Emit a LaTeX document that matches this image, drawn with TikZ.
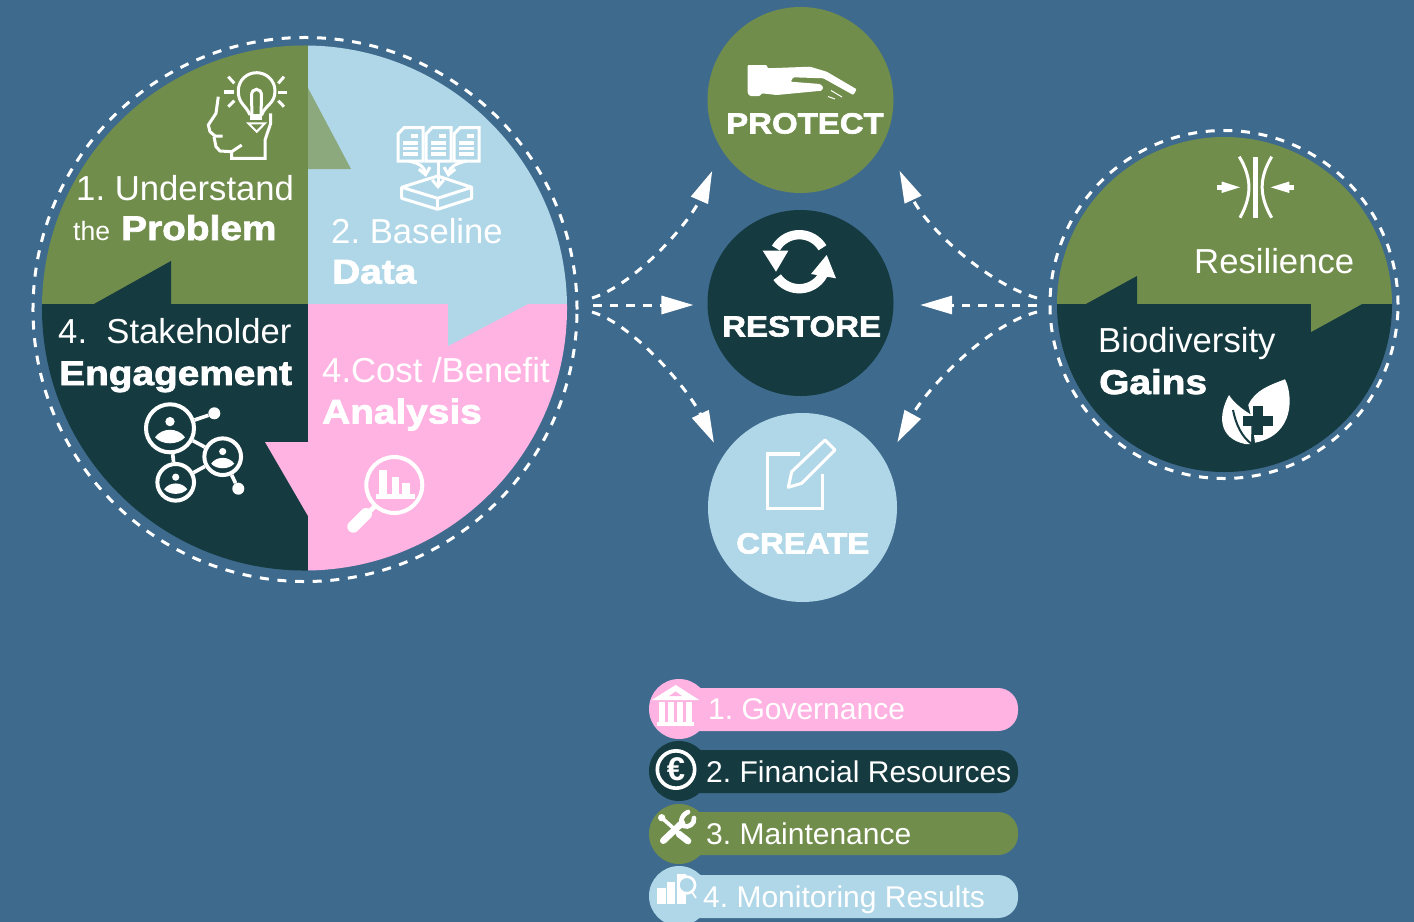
\documentclass[tikz,border=0pt]{standalone}
\usepackage{fontspec}
\setmainfont{Liberation Sans}
\newfontfamily\heavyfont[BoldFeatures={FakeBold=2.2,FakeStretch=1.13}]{Liberation Sans}
\usetikzlibrary{arrows.meta}
\definecolor{sea}{HTML}{3E6A8D}
\definecolor{moss}{HTML}{718D4B}
\definecolor{pine}{HTML}{153A40}
\definecolor{sky}{HTML}{B0D7E8}
\definecolor{rose}{HTML}{FFB3E3}
\definecolor{sage}{HTML}{8CA87D}
\tikzset{
	bodytext/.style={inner sep=0pt,anchor=base west,text=white,font=\frenchspacing\fontsize{29.6}{32}\selectfont},
	heavytext/.style={inner sep=0pt,anchor=base west,text=white,font=\fontsize{29.3}{32}\selectfont\heavyfont\bfseries},
	capstext/.style={inner sep=0pt,anchor=base west,text=white,font=\fontsize{24.9}{28}\selectfont\heavyfont\bfseries},
	legendtext/.style={inner sep=0pt,anchor=base west,text=white,font=\frenchspacing\fontsize{25.6}{28}\selectfont},
	dashring/.style={draw=white,line width=.09cm,dash pattern=on .27cm off .26cm},
	flowline/.style={draw=white,line width=.09cm,dash pattern=on .26cm off .24cm,-{Triangle[length=.96cm,width=.54cm]}},
	bigdisc/.style={circle,inner sep=0pt,outer sep=0pt,minimum size=5.58cm},
	pillbar/.style={rounded corners=.6cm},
	iconline/.style={draw=white,line width=.09cm},
	netlink/.style={draw=white,line width=.11cm},
	persondisc/.style={circle,draw=white,line width=.12cm,inner sep=0pt,minimum size=1.1cm},
	netdot/.style={circle,fill=white,inner sep=0pt,minimum size=.36cm},
	personmark/.pic={
		\fill[white] (0,-6.7) circle [radius=.14cm];
		\fill[white] (-15,9) .. controls (-8,-1) and (8,-1) .. (15,9) .. controls (8,17) and (-8,17) .. (-15,9) -- cycle;
	}
}
\begin{document}
\begin{tikzpicture}[x=.03cm,y=-.03cm]
	\useasboundingbox (0,0) rectangle (1414,922);
	\fill[sea] (0,0) rectangle (1414,922);

	\begin{scope}
		\clip (304.5,308) circle [radius=7.875cm];
		\fill[moss] (0,0) rectangle (308,304);
		\fill[sky] (308,0) rectangle (620,304);
		\fill[pine] (0,304) rectangle (308,620);
		\fill[rose] (308,304) rectangle (620,620);
		\fill[pine] (94,304) -- (171,261) -- (171,304) -- cycle;
		\fill[sage] (308,88) -- (351,169) -- (308,169) -- cycle;
		\fill[sky] (448,304) -- (448,346) -- (528,304) -- cycle;
		\fill[rose] (265,442) -- (308,442) -- (308,516) -- cycle;
	\end{scope}
	\draw[dashring] (305,309.5) circle [radius=8.16cm];

	\begin{scope}
		\clip (1224.5,304.5) circle [radius=5.025cm];
		\fill[moss] (1040,120) rectangle (1410,304);
		\fill[pine] (1040,304) rectangle (1410,490);
		\fill[pine] (1086,304) -- (1137,276) -- (1137,304) -- cycle;
		\fill[moss] (1311,304) -- (1311,332) -- (1362,304) -- cycle;
	\end{scope}
	\draw[dashring] (1224,304.5) circle [radius=5.22cm];

	\node[bigdisc,fill=moss] (protect) at (800.5,100) {};
	\node[bigdisc,fill=pine] (restore) at (800.5,303) {};
	\node[bigdisc,fill=sky,minimum size=5.67cm] (create) at (802.5,507.5) {};

	\coordinate (hubLeftUp) at (592,298);
	\coordinate (hubLeftMid) at (593,305);
	\coordinate (hubLeftDown) at (592,312);
	\coordinate (hubRightUp) at (1037,298);
	\coordinate (hubRightMid) at (1037,305);
	\coordinate (hubRightDown) at (1037,312);
	\draw[flowline,shorten >=.71cm] (hubLeftUp) .. controls (635,285) and (690,222) .. (protect.212);
	\draw[flowline,shorten >=.42cm] (hubLeftMid) -- (hubLeftMid -| restore.west);
	\draw[flowline,shorten >=.53cm] (hubLeftDown) .. controls (635,325) and (690,392) .. (create.149);
	\draw[flowline,shorten >=1.04cm] (hubRightUp) .. controls (985,283) and (925,225) .. (protect.335);
	\draw[flowline,shorten >=.8cm] (hubRightMid) -- (hubRightMid -| restore.east);
	\draw[flowline,shorten >=.71cm] (hubRightDown) .. controls (985,325) and (925,392) .. (create.28);

	\node[bodytext] (understandA) at (76,200) {1. Understand};
	\node[bodytext,font=\fontsize{22.7}{26}\selectfont] (understandB) at (73,240) {the};
	\node[heavytext] (understandC) at (121,240) {Problem};
	\node[bodytext] (baselineA) at (331,243) {2. Baseline};
	\node[heavytext] (baselineB) at (332,283.5) {Data};
	\node[bodytext] (stakeA) at (58,343.5) {4.\ \ Stakeholder};
	\node[heavytext] (stakeB) at (59,385) {Engagement};
	\node[bodytext] (costA) at (322,382) {4.Cost /Benefit};
	\node[heavytext] (costB) at (322,423.5) {Analysis};
	\node[bodytext] (resilience) at (1194,273) {Resilience};
	\node[bodytext] (gainsA) at (1098,352.5) {Biodiversity};
	\node[heavytext] (gainsB) at (1099,394) {Gains};
	\node[capstext] (protectText) at (726,133.5) {PROTECT};
	\node[capstext] (restoreText) at (722,336.5) {RESTORE};
	\node[capstext] (createText) at (736,553.5) {CREATE};

	\draw[iconline,line join=round] (250,115) .. controls (246,105) and (238.3,104) .. (238.3,91) .. controls (238.3,80) and (247,72.7) .. (256.7,72.7) .. controls (266,72.7) and (275,80) .. (275,91) .. controls (275,104) and (265,105) .. (261.7,115);
	\draw[iconline] (252,116) -- (251.5,96) .. controls (251,87) and (262,87) .. (261.5,96) -- (261,116);
	\fill[white] (250,114) rectangle (262,120);
	\draw[iconline,line width=.06cm] (248.3,123.3) -- (265,123.3) -- (256.7,131.7) -- cycle;
	\draw[iconline,line width=.1cm] (224.3,92) -- (234,92);
	\draw[iconline,line width=.1cm] (278.3,92.7) -- (286.7,92.7);
	\draw[iconline] (228.3,76.7) -- (234.3,83.3);
	\draw[iconline] (228.3,106.7) -- (234.3,100.7);
	\draw[iconline] (284,76.7) -- (278.3,83.3);
	\draw[iconline] (284,106.7) -- (278.3,100.7);
	\draw[iconline,line join=round] (218.3,96.7) -- (216,113.3) -- (208.3,125) -- (210,131.7) -- (215,136) -- (222.7,136);
	\draw[iconline,line join=round] (214,136.7) -- (216,146.7) -- (220,151) -- (231.7,151.7) -- (241.7,145);
	\draw[iconline] (231.7,151.7) -- (231.7,158.3) -- (265,158.3) -- (265,140) -- (270.7,123.3) -- (270.7,113.3);

	\foreach \docx in {398,426,454}{
		\draw[iconline] (\docx+6,127.7) -- (\docx+25,127.7) -- (\docx+25,161) -- (\docx,161) -- (\docx,134) -- cycle;
		\fill[white] (\docx+13,134) rectangle (\docx+20,138);
		\foreach \docy in {141,146.5,152}
			\fill[white] (\docx+5,\docy) rectangle (\docx+20,\docy+3.8);
	}
	\draw[iconline,line join=round] (401.7,187.3) -- (437.7,176) -- (471.7,187.3) -- (437.7,198.3) -- cycle;
	\draw[iconline,line join=round] (401.7,187.3) -- (401.7,198.3) -- (437.7,209.3) -- (471.7,198.3) -- (471.7,187.3);
	\draw[iconline] (437.7,198.3) -- (437.7,209.3);
	\draw[iconline,-{Straight Barb[length=.2cm,width=.34cm]}] (438,161) -- (438,189);
	\draw[iconline,-{Straight Barb[length=.2cm,width=.34cm]}] (409,161) .. controls (420,164) and (424,166) .. (426,177);
	\draw[iconline,-{Straight Barb[length=.2cm,width=.34cm]}] (466,161) .. controls (456,164) and (450,166) .. (448,177);

	\node[persondisc,minimum size=1.44cm] (peerA) at (170,428.3) {};
	\node[persondisc] (peerB) at (222.7,456.7) {};
	\node[persondisc] (peerC) at (175.7,482.3) {};
	\node[netdot] (dotA) at (214.3,413.3) {};
	\node[netdot] (dotB) at (238.3,488.7) {};
	\draw[netlink] (peerA) -- (dotA);
	\draw[netlink] (peerA) -- (peerB);
	\draw[netlink] (peerA) -- (peerC);
	\draw[netlink] (peerB) -- (peerC);
	\draw[netlink] (peerB) -- (dotB);
	\pic at (170,428.3) {personmark};
	\pic[scale=.77] at (222.7,456.7) {personmark};
	\pic[scale=.77] at (175.7,482.3) {personmark};

	\node[circle,draw=white,line width=.12cm,inner sep=0pt,minimum size=1.68cm] (lens) at (394.3,485) {};
	\coordinate (lensGrip) at (353.3,526.7);
	\draw[white,line width=.14cm] (lens) ++(-18,20) -- (lensGrip);
	\draw[white,line width=.36cm,line cap=round] (366,514) -- (lensGrip);
	\fill[white] (376,494) rectangle (415,499);
	\fill[white] (379.3,470) rectangle (387.3,494);
	\fill[white] (391.7,476.7) rectangle (399.3,494);
	\fill[white] (402,483.3) rectangle (410,494);

	\fill[white,rounded corners=.03cm] (747.7,65) -- (766.7,65) -- (767.7,68.3) -- (810,66.7) -- (826.7,71.7) -- (856.7,89.3) -- (853.3,95) -- (823.3,78.3) -- (793.3,77.3) -- (790.7,81.7) -- (820,84) -- (823.3,87.3) -- (821.7,90.7) -- (776.7,95) -- (761.7,93.3) -- (760,96) -- (750,96) -- (747.7,93.3) -- cycle;
	\draw[white,line width=.03cm] (831,90.5) -- (842,97);
	\draw[white,line width=.03cm] (828,96.5) -- (835,99);

	\draw[white,line width=.28cm] plot[variable=\t,domain=31:150,samples=30] ({799.3+27*cos(\t)},{261.7-27*sin(\t)});
	\fill[white] (762.7,250.7) -- (788.3,250.7) -- (776,271.7) -- cycle;
	\draw[white,line width=.28cm] plot[variable=\t,domain=215:335,samples=30] ({799.3+27*cos(\t)},{261.7-27*sin(\t)});
	\fill[white] (811,274) -- (826.7,255) -- (836,278.3) -- cycle;

	\draw[iconline,line width=.1cm] (800,454) -- (767.7,454) -- (767.7,508.3) -- (822.7,508.3) -- (822.7,474);
	\draw[iconline,line join=round] (788.3,487.3) -- (791.7,471.7) -- (825,440) -- (835,450) -- (801.7,483.3) -- cycle;

	\fill[white] (1253.3,156.7) rectangle (1258,217.7);
	\draw[white,line width=.09cm] (1239.3,156.7) .. controls (1252,178) and (1252,196) .. (1240,217.7);
	\draw[white,line width=.09cm] (1271.7,156.7) .. controls (1259,178) and (1259,196) .. (1271.7,217.7);
	\fill[white] (1217.3,184.5) rectangle (1221.7,190);
	\fill[white] (1221.7,181.5) -- (1240,187.3) -- (1221.7,193) -- cycle;
	\fill[white] (1289.3,184.5) rectangle (1294,190);
	\fill[white] (1289.3,181.5) -- (1270.7,187.3) -- (1289.3,193) -- cycle;

	\fill[white] (1285,379.3) .. controls (1293,395) and (1295,435) .. (1255,442.7) -- (1252,420) -- (1248.3,405) .. controls (1255,390) and (1270,385) .. (1285,379.3) -- cycle;
	\fill[white] (1229,395) .. controls (1218,415) and (1218,438) .. (1245,444) -- (1251,444) -- (1251.7,415) .. controls (1243,410) and (1233,402) .. (1229,395) -- cycle;
	\draw[pine,line width=.06cm] (1233,410) .. controls (1236,425) and (1242,437) .. (1251.7,444);
	\fill[pine] (1252.7,406) rectangle (1262.7,435);
	\fill[pine] (1242.7,416) rectangle (1272.7,426);

	\fill[rose,pillbar] (660,688) rectangle (1018,731);
	\fill[pine,pillbar] (660,750) rectangle (1018,793);
	\fill[moss,pillbar] (660,812) rectangle (1018,855);
	\fill[sky,pillbar] (660,875) rectangle (1018,918);
	\node[circle,fill=rose,inner sep=0pt,minimum size=1.8cm] (bankDisc) at (679,709) {};
	\node[circle,fill=pine,inner sep=0pt,minimum size=1.8cm] (euroDisc) at (679,771) {};
	\node[circle,fill=moss,inner sep=0pt,minimum size=1.8cm] (toolDisc) at (679,834) {};
	\node[circle,fill=sky,inner sep=0pt,minimum size=1.8cm] (chartDisc) at (679,896) {};

	\node[legendtext] (govText) at (708,719.5) {1. Governance};
	\node[legendtext] (finText) at (706,782) {2. Financial Resources};
	\node[legendtext] (mainText) at (706,844) {3. Maintenance};
	\node[legendtext] (monText) at (703,907) {4. Monitoring Results};

	\fill[white] (651.7,700) -- (675.7,685) -- (699.3,700) -- cycle;
	\fill[rose] (669,696) -- (675.7,691.5) -- (682,696) -- cycle;
	\foreach \colx in {659,668,677,686}
		\fill[white] (\colx,701.7) rectangle (\colx+6,721.7);
	\fill[white] (656.7,721.7) rectangle (694,725.7);

	\node[circle,draw=white,line width=.11cm,inner sep=0pt,minimum size=1.12cm] (euroRing) at (676,769.5) {};
	\node[inner sep=0pt,text=white,font=\fontsize{28}{30}\selectfont\bfseries] (euroSign) at (676,769.5) {€};

	\draw[white,line width=.2cm,line cap=round] (663.3,840.7) -- (682,823);
	\draw[white,line width=.14cm,line cap=round] (688,812) .. controls (680,816) and (680,824) .. (684,826) .. controls (688,828) and (695,824) .. (694,818);
	\draw[white,line width=.11cm,line cap=round] (661.7,817.7) -- (680,834);
	\draw[white,line width=.2cm,line cap=round] (679,834) -- (688,841);
	\fill[white] (661.7,817.7) circle [radius=.11cm];

	\fill[white] (657.3,888.3) rectangle (666,904.3);
	\fill[white] (666.7,881.7) rectangle (675,904.3);
	\fill[white] (677,874.3) rectangle (686,904.3);
	\fill[sky] (686.7,885) circle [radius=.25cm];
	\draw[white,line width=.08cm] (686.7,885) circle [radius=.25cm];
	\draw[white,line width=.05cm] (692,892) -- (696,898);
\end{tikzpicture}
\end{document}
